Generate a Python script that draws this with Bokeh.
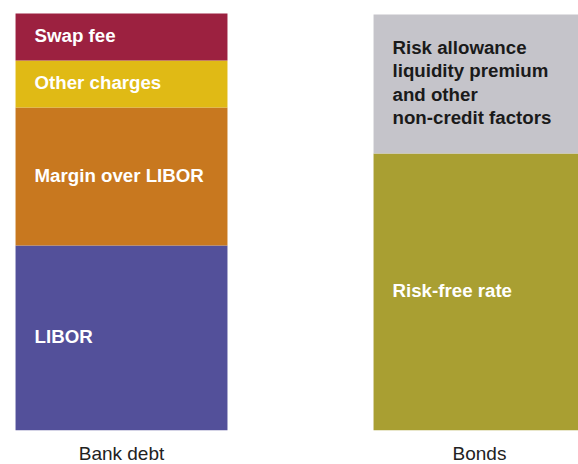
from bokeh.plotting import figure
from bokeh.models import ColumnDataSource, FixedTicker, Range1d
from bokeh.core.properties import value
from bokeh.embed import file_html
from bokeh.resources import INLINE

# ---- data -------------------------------------------------------------
categories = ["Bank debt", "Bonds"]

bank_segments = ["LIBOR", "Margin over LIBOR", "Other charges", "Swap fee"]
bank_values = [185, 138, 47, 47]
bank_colors = ["#53509A", "#C8781F", "#E0BA15", "#9C2140"]
bank_text_colors = ["#FFFFFF", "#FFFFFF", "#FFFFFF", "#FFFFFF"]

bond_segments = ["Risk-free rate",
                 "Risk allowance\nliquidity premium\nand other\nnon-credit factors"]
bond_values = [277, 139]
bond_colors = ["#A99F32", "#C5C4CA"]
bond_text_colors = ["#FFFFFF", "#1A1A1A"]

# ---- build stacked segments -----------------------------------------
BAR_W = 0.592
xs, bottoms, tops, colors, labels, tcolors = [], [], [], [], [], []
for ci, (segs, vals, cols, tcols) in enumerate([
        (bank_segments, bank_values, bank_colors, bank_text_colors),
        (bond_segments, bond_values, bond_colors, bond_text_colors)]):
    base = 0
    for s, v, c, tc in zip(segs, vals, cols, tcols):
        xs.append(ci)
        bottoms.append(base)
        tops.append(base + v)
        colors.append(c)
        labels.append(s)
        tcolors.append(tc)
        base += v

src = ColumnDataSource(dict(
    x=xs, bottom=bottoms, top=tops, color=colors, label=labels, tcolor=tcolors,
    lx=[x - BAR_W / 2 for x in xs],
    ly=[(b + t) / 2 for b, t in zip(bottoms, tops)],
))

p = figure(frame_width=578, frame_height=430, output_backend="svg",
           toolbar_location=None,
           x_range=Range1d(-0.338, 1.2765), y_range=Range1d(0, 430),
           min_border_left=0, min_border_right=0, min_border_top=0,
           min_border_bottom=0)

p.vbar(x="x", width=BAR_W, bottom="bottom", top="top", color="color",
       line_color=None, source=src)

p.text(x="lx", y="ly", text="label", source=src, x_offset=19, y_offset=-1.5,
       text_baseline="middle", text_align="left",
       text_font=value("Liberation Sans"), text_font_style="bold",
       text_font_size="18.7px", text_color="tcolor", text_line_height=1.1)

p.xaxis.ticker = FixedTicker(ticks=list(range(len(categories))))
p.xaxis.major_label_overrides = {i: c for i, c in enumerate(categories)}
p.xaxis.axis_line_color = None
p.xaxis.major_tick_line_color = None
p.xaxis.minor_tick_line_color = None
p.xaxis.major_tick_out = 0
p.xaxis.major_tick_in = 0
p.xaxis.major_label_standoff = 12
p.xaxis.major_label_text_font = "Liberation Sans"
p.xaxis.major_label_text_font_size = "19px"
p.xaxis.major_label_text_color = "#222222"
p.yaxis.visible = False
p.xgrid.visible = False
p.ygrid.visible = False
p.outline_line_color = None
p.background_fill_color = "white"
p.border_fill_color = "white"

open("out.html", "w").write(file_html(p, INLINE))
